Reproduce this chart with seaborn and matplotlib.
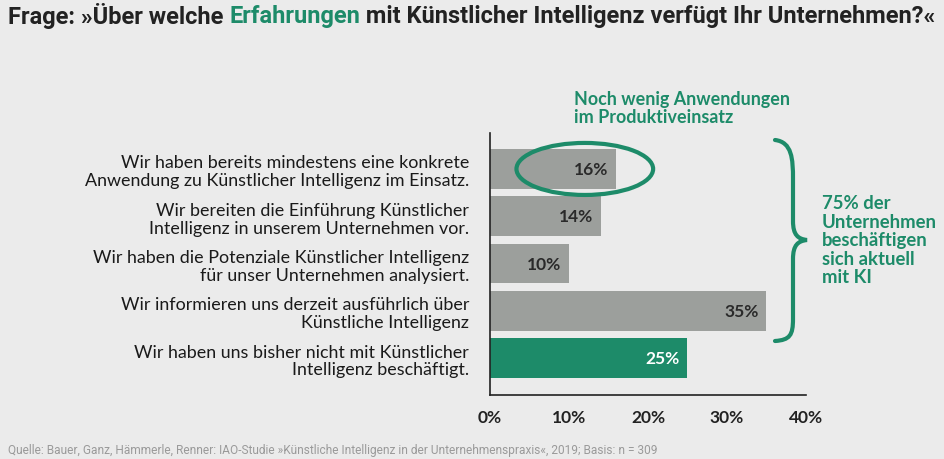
import matplotlib
matplotlib.use("Agg")
import matplotlib.pyplot as plt
import seaborn as sns
import pandas as pd
from matplotlib.patches import Ellipse, PathPatch
from matplotlib.path import Path
from matplotlib.transforms import Affine2D

categories = [
    "Wir haben bereits mindestens eine konkrete\nAnwendung zu Künstlicher Intelligenz im Einsatz.",
    "Wir bereiten die Einführung Künstlicher\nIntelligenz in unserem Unternehmen vor.",
    "Wir haben die Potenziale Künstlicher Intelligenz\nfür unser Unternehmen analysiert.",
    "Wir informieren uns derzeit ausführlich über\nKünstliche Intelligenz",
    "Wir haben uns bisher nicht mit Künstlicher\nIntelligenz beschäftigt.",
]
values = [16, 14, 10, 35, 25]
bar_colors = ["#9c9f9c", "#9c9f9c", "#9c9f9c", "#9c9f9c", "#1d8b69"]
ticks = [0, 10, 20, 30, 40]
tick_labels = ["0%", "10%", "20%", "30%", "40%"]

title_parts = [
    ("Frage: »Über welche ", "#222222"),
    ("Erfahrungen", "#1d8b69"),
    (" mit Künstlicher Intelligenz verfügt Ihr Unternehmen?«", "#222222"),
]
note_top = "Noch wenig Anwendungen\nim Produktiveinsatz"
note_right = "75% der\nUnternehmen\nbeschäftigen\nsich aktuell\nmit KI"
source = "Quelle: Bauer, Ganz, Hämmerle, Renner: IAO-Studie »Künstliche Intelligenz in der Unternehmenspraxis«, 2019; Basis: n = 309"

GREEN = "#1d8b69"
BG = "#ebebeb"

sns.set_style("white")
plt.rcParams["font.family"] = ["Lato", "DejaVu Sans"]

df = pd.DataFrame({"label": categories, "value": values})

W, H = 945, 460
fig = plt.figure(figsize=(W / 100, H / 100), dpi=100, facecolor=BG)
ax = fig.add_axes([490 / W, 1 - 396 / H, 316 / W, 262 / H])
ax.set_facecolor(BG)

sns.barplot(data=df, x="value", y="label", hue="label", palette=bar_colors,
            orient="h", width=0.836, legend=False, saturation=1,
            linewidth=0, ax=ax)

ax.set_xlim(0, 40)
ax.set_ylim(4.78, -0.76)
ax.set_xticks(ticks)
ax.set_xticklabels(tick_labels, fontsize=12.5, fontweight="bold", color="#222222")
ax.tick_params(axis="x", length=7, width=1, color="#222222", pad=3)
ax.tick_params(axis="y", length=0, pad=15)
for lab in ax.get_yticklabels():
    lab.set_fontsize(12.9)
    lab.set_color("#1a1a1a")
    lab.set_linespacing(1.14)
ax.set_xlabel("")
ax.set_ylabel("")
for s in ["top", "right"]:
    ax.spines[s].set_visible(False)
for s in ["left", "bottom"]:
    ax.spines[s].set_color("#222222")
    ax.spines[s].set_linewidth(1.2)

# value labels inside bars
for i, v in enumerate(values):
    col = "white" if i == len(values) - 1 else "#2a2a2a"
    ax.text(v - 1.0, i, f"{v}%", ha="right", va="center",
            fontsize=12.5, fontweight="bold", color=col)

# ellipse around the first bar's label
ax.add_patch(Ellipse((12.0, 0.0), 17.3, 1.1, fill=False, edgecolor=GREEN,
                     linewidth=3, clip_on=False))

# pixel transform (origin top-left)
px = Affine2D().scale(1 / W, -1 / H).translate(0, 1) + fig.transFigure

# curly brace
verts = [
    (775, 141), (792, 143), (793, 160), (793, 180),
    (793, 222),
    (793, 236), (798, 240), (807, 241),
    (798, 242), (793, 246), (793, 260),
    (793, 320),
    (793, 336), (790, 341), (775, 342),
]
codes = [Path.MOVETO, Path.CURVE4, Path.CURVE4, Path.CURVE4,
         Path.LINETO,
         Path.CURVE4, Path.CURVE4, Path.CURVE4,
         Path.CURVE4, Path.CURVE4, Path.CURVE4,
         Path.LINETO,
         Path.CURVE4, Path.CURVE4, Path.CURVE4]
fig.add_artist(PathPatch(Path(verts, codes), fill=False, edgecolor=GREEN,
                         linewidth=3, transform=px, capstyle="round"))

fig.text(822, 195, note_right, transform=px, ha="left", va="top",
         fontsize=13.3, fontweight="bold", color=GREEN, linespacing=1.11)
fig.text(574, 91, note_top, transform=px, ha="left", va="top",
         fontsize=12.9, fontweight="bold", color=GREEN, linespacing=1.05)

fig.text(8, 451, source, transform=px, ha="left", va="center",
         fontsize=8.6, color="#9a9a9a", family=["Roboto", "DejaVu Sans"])

# title in pieces with colored word, fitted to the reference width
renderer = fig.canvas.get_renderer()
tfont = ["Roboto", "DejaVu Sans"]
total = 0
for txt, col in title_parts:
    t = fig.text(0, 0, txt, fontsize=14, fontweight="bold", family=tfont)
    total += t.get_window_extent(renderer).width
    t.remove()
tsize = 14 * 930 / total
x = 8
for txt, col in title_parts:
    t = fig.text(x, 16, txt, transform=px, ha="left", va="center",
                 fontsize=tsize, fontweight="bold", color=col, family=tfont)
    x += t.get_window_extent(renderer).width

fig.savefig("out.png", dpi=100, facecolor=BG)
